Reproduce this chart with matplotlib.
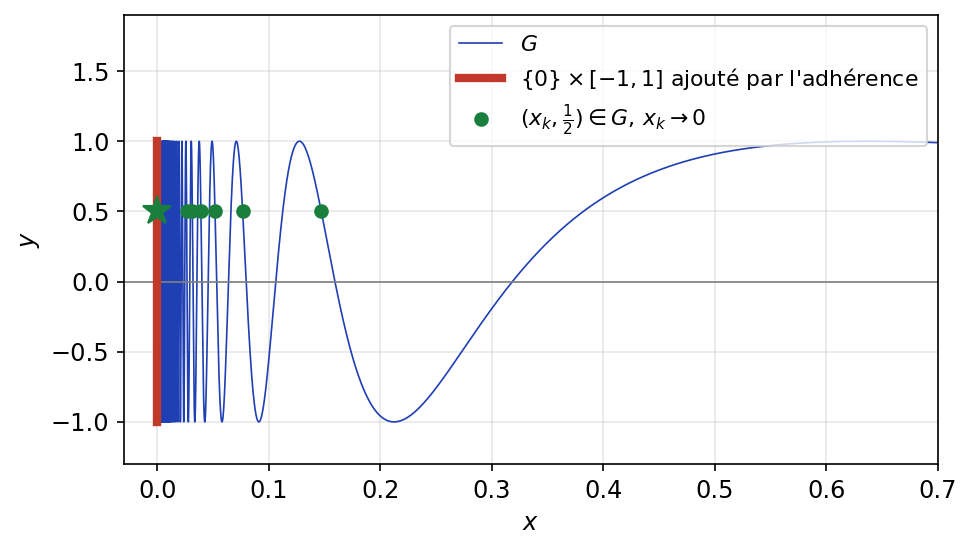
import numpy as np
import matplotlib
matplotlib.use("Agg")
import matplotlib.pyplot as plt

x_pts = [0.1469, 0.0764, 0.0516, 0.0390, 0.0314, 0.0263]
y_pts = [0.5] * len(x_pts)
seg_x = [0.0, 0.0]
seg_y = [-1.0, 1.0]
star = (0.0, 0.5)

plt.rcParams['font.size'] = 11.5
fig = plt.figure(figsize=(6.48, 3.687), dpi=150)
ax = fig.add_axes([124/972, 1-464/553, (938-124)/972, (464-15)/553])
x = np.linspace(0.004, 0.7, 200000)
ax.plot(x, np.sin(1/x), color='#1f3fb4', lw=0.8, label='$G$')
ax.plot(seg_x, seg_y, color='#c0392b', lw=4, label="$\\{0\\}\\times[-1,1]$ ajouté par l'adhérence", zorder=3)
ax.plot(x_pts, y_pts, 'o', color='#1a7f3c', ms=6, ls='none',
        label=r'$(x_k,\frac{1}{2})\in G,\,x_k\to 0$', zorder=4)
ax.plot([star[0]], [star[1]], '*', color='#1a7f3c', ms=14, zorder=5)
ax.axhline(0, color='grey', lw=0.8)
ax.set_xlim(-0.03, 0.7)
ax.set_ylim(-1.3, 1.9)
ax.set_yticks([-1.0, -0.5, 0.0, 0.5, 1.0, 1.5])
ax.grid(True, alpha=0.3)
ax.set_xlabel('$x$')
ax.set_ylabel('$y$')
ax.legend(loc='upper right', fontsize=10.5)
fig.savefig('out.png', dpi=150)
